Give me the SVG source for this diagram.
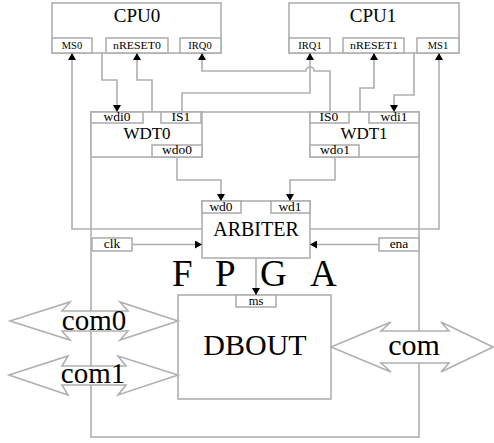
<svg xmlns="http://www.w3.org/2000/svg" width="494" height="443" viewBox="0 0 494 443">
<style>
.b{fill:#fff;stroke:#b0b0b0;stroke-width:1.6}
.n{fill:none;stroke:#b0b0b0;stroke-width:1.6}
.w{fill:none;stroke:#b0b0b0;stroke-width:1.6;marker-end:url(#ah)}
text{font-family:"Liberation Serif","Times New Roman",serif;fill:#000;text-anchor:middle}
.t{font-size:19px}
.p{font-size:10.5px}
.q{font-size:13.5px}
.big{font-size:30px}
</style>
<defs>
<marker id="ah" viewBox="0 0 7 8" refX="7" refY="4" markerWidth="7" markerHeight="8" markerUnits="userSpaceOnUse" orient="auto"><path d="M0,0 L7,4 L0,8 z" fill="#000"/></marker>
</defs>
<rect id="fpga" class="n" x="91" y="112" width="328" height="325"/>
<g id="cpu0">
<rect class="b" x="52" y="3" width="169" height="50"/>
<rect class="b" x="52" y="38" width="40" height="15"/>
<rect class="b" x="106" y="38" width="62" height="15"/>
<rect class="b" x="180" y="38" width="41" height="15"/>
<text class="t" x="137" y="22">CPU0</text>
<text class="p" x="72" y="49">MS0</text>
<text class="p" x="137" y="49" textLength="48" lengthAdjust="spacingAndGlyphs">nRESET0</text>
<text class="p" x="200" y="49">IRQ0</text>
</g>
<g id="cpu1">
<rect class="b" x="289" y="3" width="170" height="50"/>
<rect class="b" x="289" y="38" width="41" height="15"/>
<rect class="b" x="343" y="38" width="61" height="15"/>
<rect class="b" x="417" y="38" width="42" height="15"/>
<text class="t" x="373" y="22">CPU1</text>
<text class="p" x="310" y="49">IRQ1</text>
<text class="p" x="374" y="49" textLength="48" lengthAdjust="spacingAndGlyphs">nRESET1</text>
<text class="p" x="438" y="49">MS1</text>
</g>
<g id="wdt0">
<rect class="b" x="91" y="112" width="111" height="45"/>
<rect class="b" x="91" y="112" width="52" height="11"/>
<rect class="b" x="161" y="112" width="40" height="11"/>
<rect class="b" x="152" y="145" width="50" height="12"/>
<text class="q" x="117" y="121">wdi0</text>
<text class="q" x="181" y="121">IS1</text>
<text class="q" x="177" y="154">wdo0</text>
<text style="font-size:17px" x="147" y="139">WDT0</text>
</g>
<g id="wdt1">
<rect class="b" x="310" y="112" width="109" height="45"/>
<rect class="b" x="310" y="112" width="39" height="11"/>
<rect class="b" x="369" y="112" width="50" height="11"/>
<rect class="b" x="310" y="145" width="49" height="12"/>
<text class="q" x="329" y="121">IS0</text>
<text class="q" x="394" y="121">wdi1</text>
<text class="q" x="335" y="154">wdo1</text>
<text style="font-size:17px" x="364" y="139">WDT1</text>
</g>
<g id="arbiter">
<rect class="b" x="202" y="201" width="108" height="57"/>
<rect class="b" x="202" y="201" width="39" height="12"/>
<rect class="b" x="271" y="201" width="39" height="12"/>
<text class="q" x="221" y="211">wd0</text>
<text class="q" x="290" y="211">wd1</text>
<text style="font-size:20px" x="256" y="236">ARBITER</text>
</g>
<g id="clk">
<rect class="b" x="92" y="238" width="40" height="13"/>
<text class="q" x="112" y="248">clk</text>
</g>
<g id="ena">
<rect class="b" x="379" y="238" width="40" height="13"/>
<text class="q" x="399" y="248">ena</text>
</g>
<g id="dbout">
<rect class="b" x="178" y="295" width="153" height="104"/>
<rect class="b" x="236" y="295" width="40" height="12"/>
<text style="font-size:12.5px" x="256" y="305">ms</text>
<text class="big" x="255" y="355">DBOUT</text>
</g>
<g id="connectors">
<path class="w" d="M202,229 H72 V53"/>
<path class="w" d="M102,53 V80 H117 V112"/>
<path class="w" d="M152,112 V80 H137 V53"/>
<path class="w" d="M330,112 V71 H314 A4,4 0 0 0 306,71 H202 V53"/>
<path class="w" d="M182,112 V93 H310 V53"/>
<path class="w" d="M360,112 V88 H374 V53"/>
<path class="w" d="M414,53 V95 H394 V112"/>
<path class="w" d="M310,229 H439 V53"/>
<path class="w" d="M177,157 V180 H221 V201"/>
<path class="w" d="M335,157 V180 H290 V201"/>
<path class="w" d="M132,244.5 H202"/>
<path class="w" d="M379,244.5 H310"/>
<path class="w" d="M256,258 V295"/>
</g>
<g id="com0">
<polygon class="b" points="10,321 70,302 62,311 128,311 120,302 178,321 120,340 128,331 62,331 70,340"/>
<text style="font-size:29px" x="94" y="330">com0</text>
</g>
<g id="com1">
<polygon class="b" points="9,375 68,356 62,366 126,366 118,356 178,375 118,395 126,385 62,385 68,395"/>
<text style="font-size:29px" x="93" y="383">com1</text>
</g>
<g id="com">
<polygon class="b" points="331,347 391,322 381,331 449,331 441,322 493,347 441,372 449,363 381,363 391,372"/>
<text class="big" x="414" y="355">com</text>
</g>
<text style="font-size:37px;text-anchor:start" x="172 194 215 238 260 288 310" y="286">F P G A</text>
</svg>
